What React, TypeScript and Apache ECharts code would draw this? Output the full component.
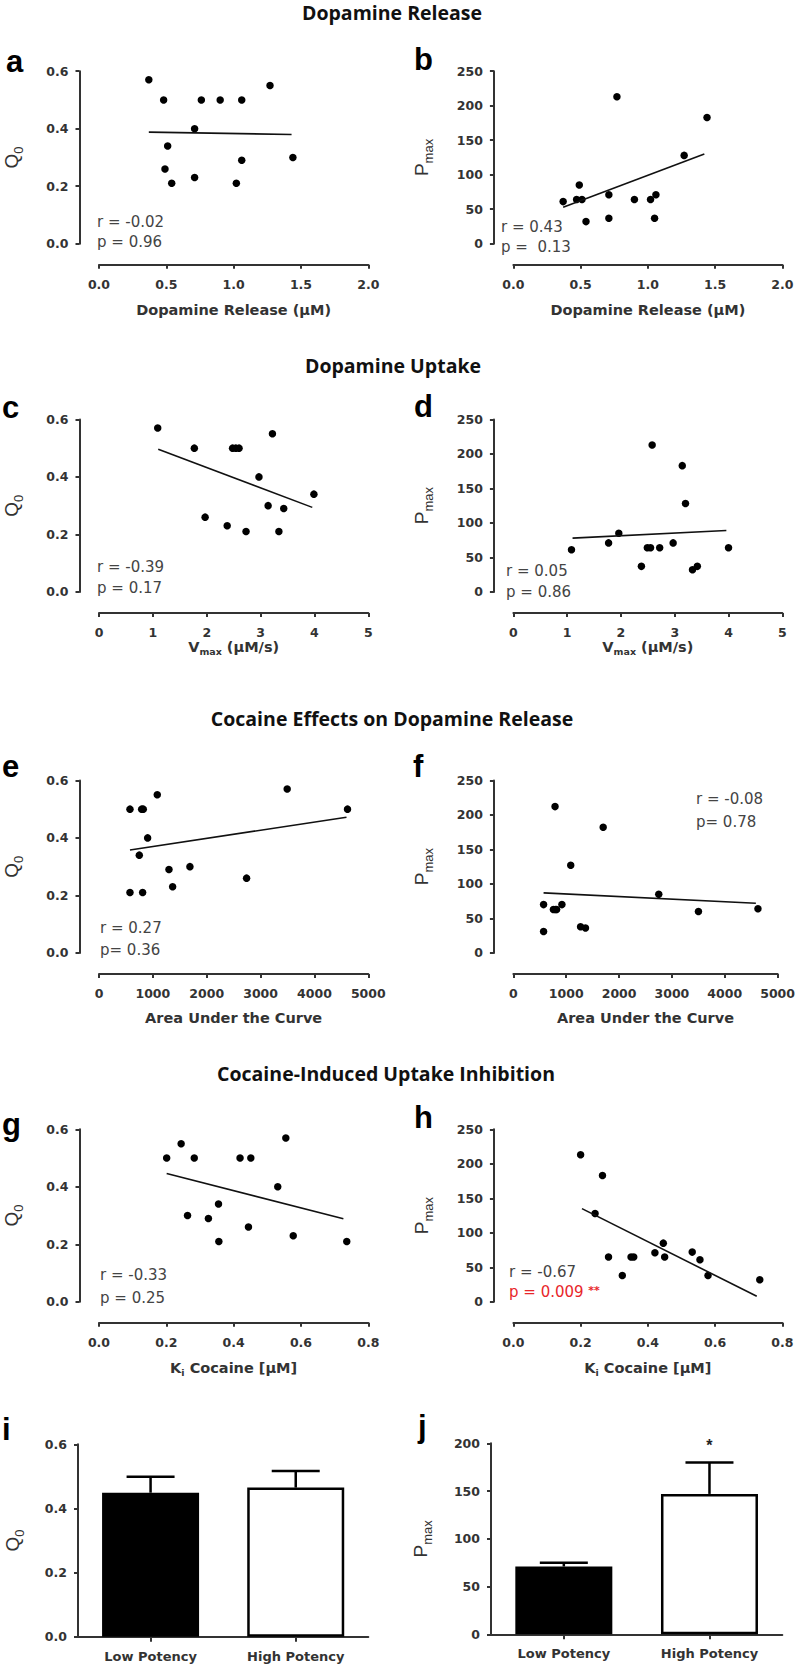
import React, { useEffect, useRef } from 'react';
import * as echarts from 'echarts';

// ---------- DATA ----------
// a: Dopamine release (µM) vs Q0
const releaseQ0 = [[0.37, 0.57], [0.48, 0.50], [0.76, 0.50], [0.90, 0.50], [1.06, 0.50], [1.27, 0.55], [0.71, 0.40], [0.51, 0.34], [0.49, 0.26], [0.54, 0.21], [0.71, 0.23], [1.02, 0.21], [1.06, 0.29], [1.44, 0.30]];
const releaseQ0Fit = [[0.37, 0.388], [1.43, 0.380]];
// b: Dopamine release (µM) vs Pmax
const releasePmax = [[0.37, 61], [0.49, 85], [0.47, 64], [0.51, 64], [0.54, 32], [0.71, 71], [0.71, 37], [0.77, 213], [0.90, 64], [1.02, 64], [1.06, 71], [1.05, 37], [1.27, 128], [1.44, 183]];
const releasePmaxFit = [[0.37, 53], [1.42, 130]];
// c: Vmax vs Q0
const uptakeQ0 = [[1.09, 0.57], [1.77, 0.50], [2.48, 0.50], [2.54, 0.50], [2.60, 0.50], [3.22, 0.55], [2.97, 0.40], [3.99, 0.34], [3.14, 0.30], [3.43, 0.29], [1.97, 0.26], [2.38, 0.23], [2.73, 0.21], [3.34, 0.21]];
const uptakeQ0Fit = [[1.10, 0.496], [3.96, 0.294]];
// d: Vmax vs Pmax
const uptakePmax = [[1.08, 61], [1.77, 71], [1.96, 85], [2.58, 213], [3.14, 183], [3.20, 128], [2.38, 37], [2.49, 64], [2.55, 64], [2.72, 64], [2.97, 71], [3.33, 32], [3.42, 37], [4.00, 64]];
const uptakePmaxFit = [[1.10, 78], [3.96, 89]];
// e: AUC vs Q0
const aucQ0 = [[575, 0.50], [792, 0.50], [822, 0.50], [1082, 0.55], [903, 0.40], [748, 0.34], [575, 0.21], [810, 0.21], [1299, 0.29], [1367, 0.23], [1688, 0.30], [2740, 0.26], [3494, 0.57], [4614, 0.50]];
const aucQ0Fit = [[575, 0.358], [4595, 0.472]];
// f: AUC vs Pmax
const aucPmax = [[571, 70], [571, 31], [757, 63], [795, 63], [818, 63], [918, 70], [788, 212], [1085, 127], [1271, 38], [1364, 36], [1699, 182], [2751, 85], [3502, 60], [4628, 64]];
const aucPmaxFit = [[571, 87], [4588, 72]];
// g: Ki cocaine vs Q0
const kiQ0 = [[0.201, 0.50], [0.244, 0.55], [0.283, 0.50], [0.419, 0.50], [0.451, 0.50], [0.555, 0.57], [0.531, 0.40], [0.355, 0.34], [0.263, 0.30], [0.325, 0.29], [0.444, 0.26], [0.356, 0.21], [0.577, 0.23], [0.736, 0.21]];
const kiQ0Fit = [[0.201, 0.446], [0.726, 0.289]];
// h: Ki cocaine vs Pmax
const kiPmax = [[0.200, 213], [0.265, 183], [0.243, 128], [0.283, 65], [0.350, 65], [0.358, 65], [0.324, 38], [0.421, 71], [0.446, 85], [0.450, 65], [0.532, 72], [0.555, 61], [0.579, 38], [0.733, 32]];
const kiPmaxFit = [[0.204, 135], [0.724, 8]];

// i, j: potency groups
const potencyGroups = ['Low Potency', 'High Potency'];
const potencyQ0Mean = [0.449, 0.465];
const potencyQ0Sem = [0.050, 0.052];
const potencyPmaxMean = [71, 147];
const potencyPmaxSem = [4, 33];
const potencyPmaxSig = ['', '*'];

// texts
const sectionTitles = ['Dopamine Release', 'Dopamine Uptake', 'Cocaine Effects on Dopamine Release', 'Cocaine-Induced Uptake Inhibition'];
const panelLetters = ['a', 'b', 'c', 'd', 'e', 'f', 'g', 'h', 'i', 'j'];
const correlationR = ['r = -0.02', 'r = 0.43', 'r = -0.39', 'r = 0.05', 'r = 0.27', 'r = -0.08', 'r = -0.33', 'r = -0.67'];
const correlationP = ['p = 0.96', 'p =  0.13', 'p = 0.17', 'p = 0.86', 'p= 0.36', 'p= 0.78', 'p = 0.25', 'p = 0.009'];

// ---------- STYLE / LAYOUT ----------
const TICK_FONT = "'DejaVu Sans', sans-serif";
const NAME_FONT = "'Liberation Sans', Arial, sans-serif";
const TITLE_FONT = "'Open Sans', sans-serif";
const AXIS_COLOR = '#333';
const TEXT_COLOR = '#333';
const TICK_SIZE = 12.5;
const XNAME_SIZE = 14.5;

const SCATTER_H = 172.5;
const ROW_TOPS = [71.2, 419.4, 780.4, 1129.3];
const LEFT_GRID = { left: 99, width: 269.3 };
const RIGHT_GRID = { left: 513.4, width: 268.9 };
const TITLE_POS = [[392, 12], [393, 365], [392, 718], [386, 1073]];
const LETTER_POS = [[6, 61], [414, 59], [2, 407], [414, 406], [2, 766], [413, 766], [2, 1124], [414, 1117], [2, 1429], [418, 1426]];
const RP_POS = [[97, 222, 242], [501, 227, 247], [97, 567, 588], [506, 571, 592], [100, 928, 950], [696, 799, 822], [100, 1275, 1298], [509, 1272, 1292]];

const xRich = {
  n: { fontFamily: TICK_FONT, fontWeight: 'bold', fontSize: XNAME_SIZE, color: TEXT_COLOR, verticalAlign: 'top' },
  s: { fontFamily: TICK_FONT, fontWeight: 'bold', fontSize: 9.5, color: TEXT_COLOR, verticalAlign: 'top', padding: [7, 0, 0, 0] },
};
const yRich = {
  m: { fontFamily: NAME_FONT, fontSize: 19, color: TEXT_COLOR, verticalAlign: 'top' },
  q: { fontFamily: NAME_FONT, fontSize: 13, color: TEXT_COLOR, verticalAlign: 'top', padding: [10, 0, 0, 0] },
};

const Q0_NAME = '{m|Q}{q|0}';
const PMAX_NAME = '{m|P}{q|max}';

type ScatterSpec = {
  points: number[][];
  fit: number[][];
  xMax: number; xInterval: number; xDigits: number;
  yMax: number; yInterval: number; yDigits: number;
  xName: string; xNameGap: number;
  yName: string; yNameGap: number;
  row: number; right: boolean;
};

const DA_NAME = '{n|Dopamine Release (µM)}';
const VMAX_NAME = '{n|V}{s|max}{n| (µM/s)}';
const AUC_NAME = '{n|Area Under the Curve}';
const KI_NAME = '{n|K}{s|i}{n| Cocaine [µM]}';

const scatterSpecs: ScatterSpec[] = [
  { points: releaseQ0, fit: releaseQ0Fit, xMax: 2, xInterval: 0.5, xDigits: 1, yMax: 0.6, yInterval: 0.2, yDigits: 1, xName: DA_NAME, xNameGap: 38, yName: Q0_NAME, yNameGap: 55, row: 0, right: false },
  { points: releasePmax, fit: releasePmaxFit, xMax: 2, xInterval: 0.5, xDigits: 1, yMax: 250, yInterval: 50, yDigits: 0, xName: DA_NAME, xNameGap: 38, yName: PMAX_NAME, yNameGap: 59, row: 0, right: true },
  { points: uptakeQ0, fit: uptakeQ0Fit, xMax: 5, xInterval: 1, xDigits: 0, yMax: 0.6, yInterval: 0.2, yDigits: 1, xName: VMAX_NAME, xNameGap: 24, yName: Q0_NAME, yNameGap: 55, row: 1, right: false },
  { points: uptakePmax, fit: uptakePmaxFit, xMax: 5, xInterval: 1, xDigits: 0, yMax: 250, yInterval: 50, yDigits: 0, xName: VMAX_NAME, xNameGap: 24, yName: PMAX_NAME, yNameGap: 59, row: 1, right: true },
  { points: aucQ0, fit: aucQ0Fit, xMax: 5000, xInterval: 1000, xDigits: 0, yMax: 0.6, yInterval: 0.2, yDigits: 1, xName: AUC_NAME, xNameGap: 37, yName: Q0_NAME, yNameGap: 55, row: 2, right: false },
  { points: aucPmax, fit: aucPmaxFit, xMax: 5000, xInterval: 1000, xDigits: 0, yMax: 250, yInterval: 50, yDigits: 0, xName: AUC_NAME, xNameGap: 37, yName: PMAX_NAME, yNameGap: 59, row: 2, right: true },
  { points: kiQ0, fit: kiQ0Fit, xMax: 0.8, xInterval: 0.2, xDigits: 1, yMax: 0.6, yInterval: 0.2, yDigits: 1, xName: KI_NAME, xNameGap: 38, yName: Q0_NAME, yNameGap: 55, row: 3, right: false },
  { points: kiPmax, fit: kiPmaxFit, xMax: 0.8, xInterval: 0.2, xDigits: 1, yMax: 250, yInterval: 50, yDigits: 0, xName: KI_NAME, xNameGap: 38, yName: PMAX_NAME, yNameGap: 59, row: 3, right: true },
];

const axisLineStyle = { color: AXIS_COLOR, width: 2 };
const tickLabel = (digits: number, margin: number) => ({
  fontFamily: TICK_FONT, fontWeight: 'bold' as const, fontSize: TICK_SIZE, color: TEXT_COLOR, margin,
  formatter: (v: number) => v.toFixed(digits),
});

function buildOption() {
  const grid: any[] = [];
  const xAxis: any[] = [];
  const yAxis: any[] = [];
  const series: any[] = [];

  scatterSpecs.forEach((sp, k) => {
    const g = sp.right ? RIGHT_GRID : LEFT_GRID;
    grid.push({ left: g.left, width: g.width, top: ROW_TOPS[sp.row], height: SCATTER_H });
    xAxis.push({
      gridIndex: k, type: 'value', min: 0, max: sp.xMax, interval: sp.xInterval, offset: 21,
      axisLine: { show: true, onZero: false, lineStyle: axisLineStyle },
      axisTick: { show: true, length: 4, lineStyle: axisLineStyle },
      axisLabel: tickLabel(sp.xDigits, 13),
      splitLine: { show: false },
      name: sp.xName, nameLocation: 'middle', nameGap: sp.xNameGap,
      nameTextStyle: { fontFamily: TICK_FONT, fontWeight: 'bold', fontSize: XNAME_SIZE, color: TEXT_COLOR, rich: xRich },
    });
    yAxis.push({
      gridIndex: k, type: 'value', min: 0, max: sp.yMax, interval: sp.yInterval, offset: 19.5,
      axisLine: { show: true, onZero: false, lineStyle: axisLineStyle },
      axisTick: { show: true, length: 4, lineStyle: axisLineStyle },
      axisLabel: tickLabel(sp.yDigits, 11),
      splitLine: { show: false },
      name: sp.yName, nameLocation: 'middle', nameGap: sp.yNameGap, nameRotate: 90,
      nameTextStyle: { fontFamily: NAME_FONT, fontSize: 19, color: TEXT_COLOR, rich: yRich },
    });
    series.push({
      type: 'scatter', xAxisIndex: k, yAxisIndex: k, data: sp.points,
      symbol: 'circle', symbolSize: 7.5, itemStyle: { color: '#000', opacity: 1 }, silent: true,
    });
    series.push({
      type: 'line', xAxisIndex: k, yAxisIndex: k, data: sp.fit,
      symbol: 'none', lineStyle: { color: '#111', width: 1.6 }, silent: true,
    });
  });

  // bar panels
  const barPanels = [
    { grid: { left: 78, top: 1444.3, width: 290.3, height: 192.4 }, max: 0.6, interval: 0.2, digits: 1, means: potencyQ0Mean, sem: potencyQ0Sem, sig: ['', ''], yName: Q0_NAME, nameGap: 52 },
    { grid: { left: 491, top: 1443.3, width: 291.3, height: 191 }, max: 200, interval: 50, digits: 0, means: potencyPmaxMean, sem: potencyPmaxSem, sig: potencyPmaxSig, yName: PMAX_NAME, nameGap: 57 },
  ];
  barPanels.forEach((bp, n) => {
    const k = 8 + n;
    grid.push(bp.grid);
    xAxis.push({
      gridIndex: k, type: 'category', data: potencyGroups,
      axisLine: { show: true, onZero: false, lineStyle: axisLineStyle },
      axisTick: { show: true, alignWithLabel: true, length: 5, lineStyle: axisLineStyle },
      axisLabel: { fontFamily: TICK_FONT, fontWeight: 'bold', fontSize: 13, color: TEXT_COLOR, margin: 13 },
      splitLine: { show: false },
    });
    yAxis.push({
      gridIndex: k, type: 'value', min: 0, max: bp.max, interval: bp.interval,
      axisLine: { show: true, onZero: false, lineStyle: axisLineStyle },
      axisTick: { show: true, length: 4, lineStyle: axisLineStyle },
      axisLabel: tickLabel(bp.digits, 11),
      splitLine: { show: false },
      name: bp.yName, nameLocation: 'middle', nameGap: bp.nameGap, nameRotate: 90,
      nameTextStyle: { fontFamily: NAME_FONT, fontSize: 19, color: TEXT_COLOR, rich: yRich },
    });
    series.push({
      type: 'bar', xAxisIndex: k, yAxisIndex: k, barWidth: 97, silent: true,
      data: bp.means.map((v, idx) => ({
        value: v,
        itemStyle: { color: idx === 0 ? '#000' : '#fff', borderColor: '#000', borderWidth: 2.5 },
      })),
    });
    const sig = bp.sig;
    series.push({
      type: 'custom', xAxisIndex: k, yAxisIndex: k, silent: true, z: 5,
      data: bp.means.map((v, idx) => [idx, v, v + bp.sem[idx]]),
      renderItem: (params: any, api: any) => {
        const base = api.coord([api.value(0), api.value(1)]);
        const top = api.coord([api.value(0), api.value(2)]);
        const half = 24;
        const children: any[] = [
          { type: 'line', shape: { x1: base[0], y1: base[1], x2: top[0], y2: top[1] }, style: { stroke: '#000', lineWidth: 2.5 } },
          { type: 'line', shape: { x1: top[0] - half, y1: top[1], x2: top[0] + half, y2: top[1] }, style: { stroke: '#000', lineWidth: 2.5 } },
        ];
        const s = sig[params.dataIndex];
        if (s) {
          children.push({
            type: 'text', x: top[0], y: top[1] - 9,
            style: { text: s, fill: '#222', fontSize: 16, fontFamily: NAME_FONT, fontWeight: 'bold', align: 'center', verticalAlign: 'bottom', textAlign: 'center', textVerticalAlign: 'bottom' },
          });
        }
        return { type: 'group', children };
      },
    });
  });

  const graphic: any[] = [];
  sectionTitles.forEach((t, k) => {
    graphic.push({
      type: 'text', x: TITLE_POS[k][0], y: TITLE_POS[k][1], silent: true,
      style: { text: t, fill: '#111', fontFamily: TITLE_FONT, fontWeight: 'bold', fontSize: 19.5, align: 'center', verticalAlign: 'middle', textAlign: 'center', textVerticalAlign: 'middle' },
    });
  });
  panelLetters.forEach((t, k) => {
    graphic.push({
      type: 'text', x: LETTER_POS[k][0], y: LETTER_POS[k][1], silent: true,
      style: { text: t, fill: '#000', fontFamily: NAME_FONT, fontWeight: 'bold', fontSize: 31, align: 'left', verticalAlign: 'middle', textAlign: 'left', textVerticalAlign: 'middle' },
    });
  });
  correlationR.forEach((t, k) => {
    const [x, yr, yp] = RP_POS[k];
    graphic.push({
      type: 'text', x, y: yr, silent: true,
      style: { text: t, fill: '#444', fontFamily: TICK_FONT, fontSize: 15, align: 'left', verticalAlign: 'middle', textAlign: 'left', textVerticalAlign: 'middle' },
    });
    const significant = k === 7;
    graphic.push({
      type: 'text', x, y: yp, silent: true,
      style: significant
        ? {
            text: '{a|' + correlationP[k] + ' }{b|**}', fill: '#e8262a', align: 'left', verticalAlign: 'middle', textAlign: 'left', textVerticalAlign: 'middle',
            rich: {
              a: { fontFamily: TICK_FONT, fontSize: 15, fill: '#e8262a', color: '#e8262a', verticalAlign: 'middle' },
              b: { fontFamily: TICK_FONT, fontSize: 11, fontWeight: 'bold', fill: '#e8262a', color: '#e8262a', verticalAlign: 'top' },
            },
          }
        : { text: correlationP[k], fill: '#444', fontFamily: TICK_FONT, fontSize: 15, align: 'left', verticalAlign: 'middle', textAlign: 'left', textVerticalAlign: 'middle' },
    });
  });

  return {
    animation: false,
    backgroundColor: '#ffffff',
    grid, xAxis, yAxis, series, graphic,
  };
}

export default function App() {
  const ref = useRef<HTMLDivElement>(null);
  useEffect(() => {
    document.body.style.margin = '0';
    if (!ref.current) return;
    const chart = echarts.init(ref.current, undefined, { renderer: 'svg' });
    chart.setOption(buildOption() as any);
    return () => chart.dispose();
  }, []);
  return (
    <div
      ref={ref}
      style={{ position: 'absolute', left: 0, top: 0, width: 798, height: 1669, background: '#fff' }}
    />
  );
}
